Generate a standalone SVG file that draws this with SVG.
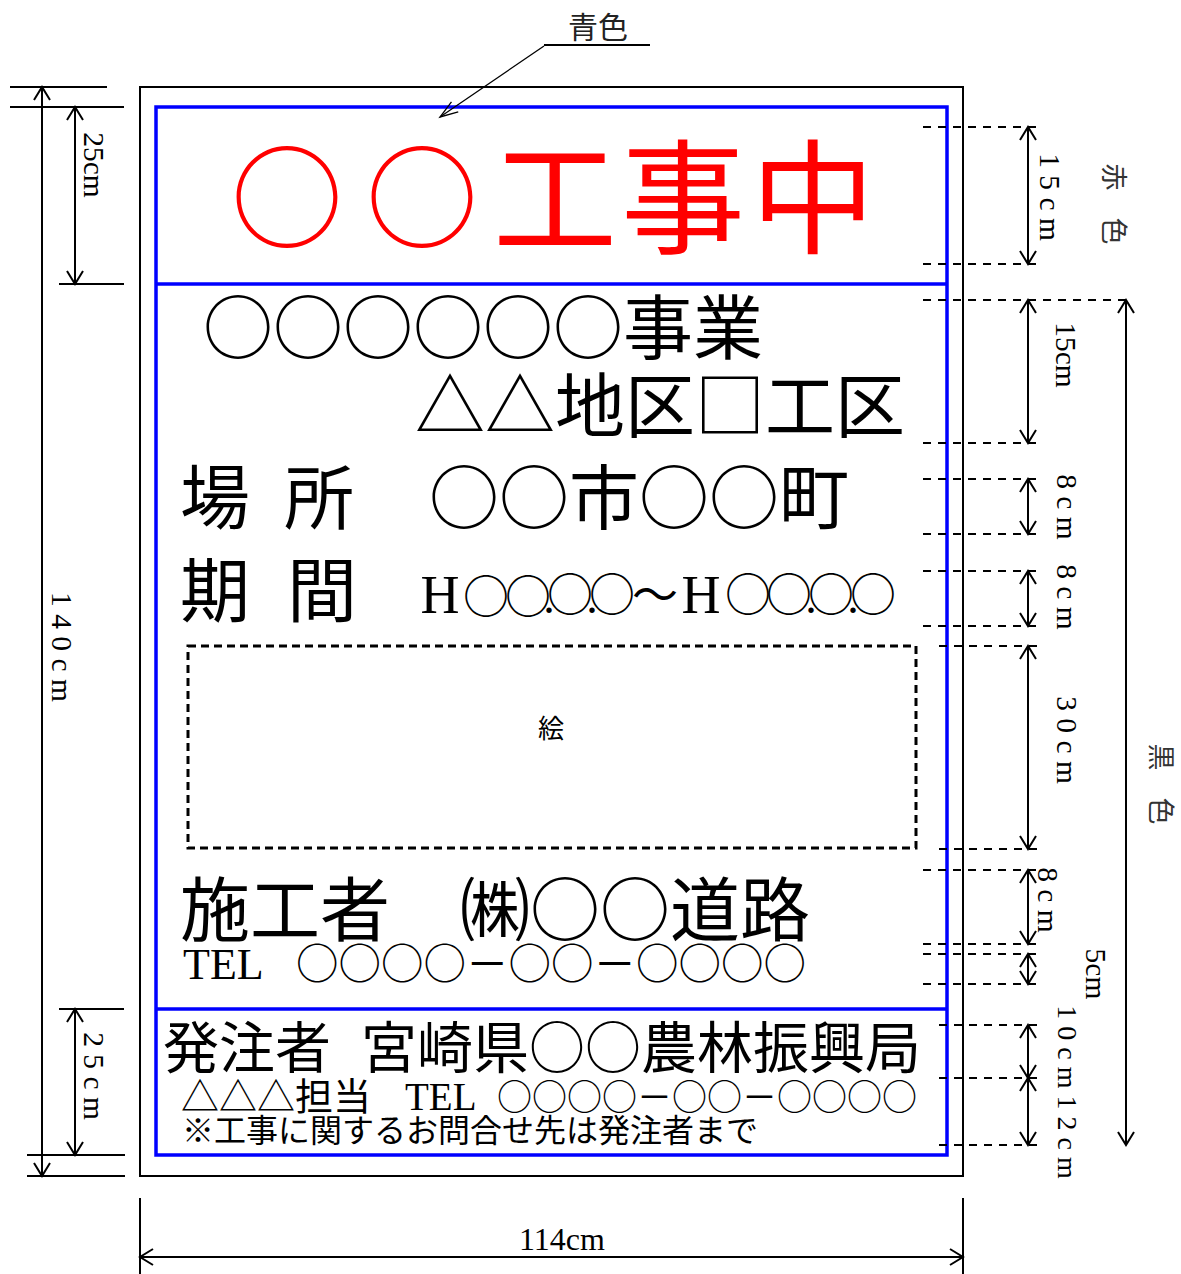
<svg xmlns="http://www.w3.org/2000/svg" width="1181" height="1274" viewBox="0 0 1181 1274">
<style>
.cjk{font-family:"Noto Sans CJK JP","Noto Sans CJK SC",sans-serif;}
.ser{font-family:"Liberation Serif","Noto Sans CJK JP",serif;}
.dim{stroke:#000;stroke-width:2;fill:none;}
.dash{stroke:#000;stroke-width:1.8;stroke-dasharray:8 7;fill:none;}
.arr{marker-start:url(#ah);marker-end:url(#ah);}
.rot{font-family:"Liberation Serif",serif;font-size:29.5px;text-anchor:middle;dominant-baseline:central;fill:#000;}
.rotc{font-family:"Noto Sans CJK JP",sans-serif;font-size:27px;text-anchor:middle;dominant-baseline:central;fill:#333;}
</style>
<defs>
<marker id="ah" markerUnits="userSpaceOnUse" markerWidth="20" markerHeight="20" viewBox="-15 -10 20 20" refX="0" refY="0" orient="auto-start-reverse">
<path d="M-13,-8 L0,0 L-13,8" fill="none" stroke="#000" stroke-width="2"/>
</marker>
<marker id="ahThin" markerUnits="userSpaceOnUse" markerWidth="24" markerHeight="20" viewBox="-20 -10 24 20" refX="0" refY="0" orient="auto">
<path d="M-18,-6 L0,0 L-18,6" fill="none" stroke="#000" stroke-width="1.3"/>
</marker>
</defs>
<rect width="1181" height="1274" fill="#fff"/>

<g id="board">
<rect x="140" y="87" width="823" height="1089" fill="none" stroke="#000" stroke-width="2"/>
<rect x="156" y="107" width="791" height="1048" fill="none" stroke="#0000ff" stroke-width="3.5"/>
<line x1="156" y1="284" x2="947" y2="284" stroke="#0000ff" stroke-width="3.5"/>
<line x1="156" y1="1009" x2="947" y2="1009" stroke="#0000ff" stroke-width="3.5"/>
</g>

<g id="title">
<text class="cjk" fill="#ff0000" text-anchor="middle"><tspan x="287 422" y="240" font-size="112">○○</tspan><tspan x="555 683 813" y="244" font-size="124">工事中</tspan></text>
</g>

<g id="project">
<text class="cjk" x="203" y="354" font-size="70">○○○○○○事業</text>
<text class="cjk" x="415" y="432" font-size="70">△△地区□工区</text>
</g>

<g id="location">
<text class="cjk" x="180" y="524" font-size="70">場</text>
<text class="cjk" x="284" y="524" font-size="70">所</text>
<text class="cjk" x="429" y="524" font-size="70">○○市○○町</text>
</g>

<g id="period">
<text class="cjk" x="180" y="617" font-size="70">期</text>
<text class="cjk" x="287" y="617" font-size="70">間</text>
<text y="611" font-size="46" text-anchor="middle"><tspan class="ser" x="440" y="613" font-size="54">H</tspan><tspan class="cjk" x="486 528">○○</tspan><tspan class="ser" x="549" y="613">.</tspan><tspan class="cjk" x="570" y="611">○</tspan><tspan class="ser" x="592" y="613">.</tspan><tspan class="cjk" x="612" y="611">○</tspan><tspan class="cjk" x="655">～</tspan><tspan class="ser" x="701" y="613" font-size="54">H</tspan><tspan class="cjk" x="748 789" y="611">○○</tspan><tspan class="ser" x="811" y="613">.</tspan><tspan class="cjk" x="831" y="611">○</tspan><tspan class="ser" x="853" y="613">.</tspan><tspan class="cjk" x="873" y="611">○</tspan></text>
</g>

<g id="picture">
<rect x="188" y="646" width="728" height="202" fill="none" stroke="#000" stroke-width="3" stroke-dasharray="8 5"/>
<text class="cjk" x="551" y="738" font-size="26" text-anchor="middle">絵</text>
</g>

<g id="contractor">
<text class="cjk" x="180" y="936" font-size="70">施工者</text>
<text class="cjk" x="460" y="936" font-size="70">㈱○○道路</text>
<text class="ser" x="183" y="979" font-size="44">TEL</text>
<text class="cjk" x="296" y="979" font-size="42.5">○○○○－○○－○○○○</text>
</g>

<g id="orderer">
<text class="cjk" x="163" y="1068" font-size="56">発注者 <tspan x="361">宮崎県○○農林振興局</tspan></text>
<text class="cjk" x="181" y="1110" font-size="38">△△△担当</text>
<text class="ser" x="405" y="1110" font-size="39">TEL</text>
<text class="cjk" x="497" y="1110" font-size="35">○○○○－○○－○○○○</text>
<text class="cjk" x="182" y="1142" font-size="32">※工事に関するお問合せ先は発注者まで</text>
</g>

<g id="connectors">
<line x1="544" y1="45" x2="650" y2="45" class="dim"/>
<line x1="544" y1="46" x2="440" y2="117" stroke="#000" stroke-width="1.3" marker-end="url(#ahThin)"/>
<line x1="10" y1="87" x2="107" y2="87" class="dim"/>
<line x1="10" y1="107" x2="124" y2="107" class="dim"/>
<line x1="59" y1="284" x2="124" y2="284" class="dim"/>
<line x1="59" y1="1009" x2="124" y2="1009" class="dim"/>
<line x1="27" y1="1155" x2="125" y2="1155" class="dim"/>
<line x1="27" y1="1176" x2="125" y2="1176" class="dim"/>
<line x1="42" y1="87" x2="42" y2="1176" class="dim arr"/>
<line x1="75" y1="107" x2="75" y2="284" class="dim arr"/>
<line x1="75" y1="1009" x2="75" y2="1155" class="dim arr"/>
<line x1="140" y1="1198" x2="140" y2="1274" class="dim"/>
<line x1="963" y1="1198" x2="963" y2="1274" class="dim"/>
<line x1="140" y1="1257" x2="963" y2="1257" class="dim arr"/>
<line x1="923" y1="127" x2="1038" y2="127" class="dash"/>
<line x1="923" y1="264" x2="1038" y2="264" class="dash"/>
<line x1="923" y1="300" x2="1133" y2="300" class="dash"/>
<line x1="923" y1="443" x2="1038" y2="443" class="dash"/>
<line x1="923" y1="479" x2="1038" y2="479" class="dash"/>
<line x1="923" y1="534" x2="1038" y2="534" class="dash"/>
<line x1="923" y1="571" x2="1038" y2="571" class="dash"/>
<line x1="923" y1="626" x2="1038" y2="626" class="dash"/>
<line x1="939" y1="646" x2="1038" y2="646" class="dash"/>
<line x1="939" y1="849" x2="1038" y2="849" class="dash"/>
<line x1="923" y1="870" x2="1038" y2="870" class="dash"/>
<line x1="923" y1="944" x2="1038" y2="944" class="dash"/>
<line x1="923" y1="954" x2="1038" y2="954" class="dash"/>
<line x1="923" y1="984" x2="1038" y2="984" class="dash"/>
<line x1="939" y1="1025" x2="1038" y2="1025" class="dash"/>
<line x1="939" y1="1078" x2="1038" y2="1078" class="dash"/>
<line x1="939" y1="1145" x2="1038" y2="1145" class="dash"/>
<line x1="1028" y1="127" x2="1028" y2="264" class="dim arr"/>
<line x1="1028" y1="300" x2="1028" y2="443" class="dim arr"/>
<line x1="1028" y1="479" x2="1028" y2="534" class="dim arr"/>
<line x1="1028" y1="571" x2="1028" y2="626" class="dim arr"/>
<line x1="1028" y1="646" x2="1028" y2="849" class="dim arr"/>
<line x1="1028" y1="870" x2="1028" y2="944" class="dim arr"/>
<line x1="1028" y1="954" x2="1028" y2="984" class="dim arr"/>
<line x1="1028" y1="1025" x2="1028" y2="1078" class="dim arr"/>
<line x1="1028" y1="1078" x2="1028" y2="1145" class="dim arr"/>
<line x1="1126" y1="300" x2="1126" y2="1145" class="dim arr"/>
</g>

<g id="labels">
<text class="cjk" x="598" y="38" font-size="30" text-anchor="middle" fill="#222">青色</text>
<text class="ser" x="562" y="1250" font-size="32" text-anchor="middle">114cm</text>
<text class="rot" transform="translate(94,165) rotate(90)">25cm</text>
<text class="rot" transform="translate(94,1076) rotate(90)">2 5 c m</text>
<text class="rot" transform="translate(62,647) rotate(90)">1 4 0 c m</text>
<text class="rot" transform="translate(1050,197) rotate(90)">1 5 c m</text>
<text class="rotc" transform="translate(1115,204) rotate(90)">赤　色</text>
<text class="rot" transform="translate(1066,355) rotate(90)">15cm</text>
<text class="rot" transform="translate(1067,507) rotate(90)">8 c m</text>
<text class="rot" transform="translate(1067,597) rotate(90)">8 c m</text>
<text class="rot" transform="translate(1067,740) rotate(90)">3 0 c m</text>
<text class="rotc" transform="translate(1162,784) rotate(90)">黒　色</text>
<text class="rot" transform="translate(1048,900) rotate(90)">8 c m</text>
<text class="rot" transform="translate(1096,974) rotate(90)">5cm</text>
<text class="rot" transform="translate(1067,1092) rotate(90)" style="font-size:28px">1 0 c m 1 2 c m</text>
</g>
</svg>
